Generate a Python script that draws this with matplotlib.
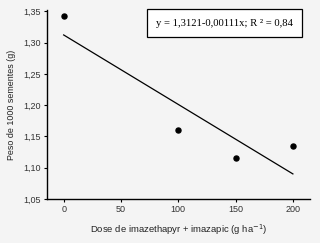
import matplotlib
matplotlib.use("Agg")
import matplotlib.pyplot as plt
import numpy as np

doses = [0, 100, 150, 200]
peso = [1.342, 1.160, 1.116, 1.134]
intercept = 1.3121
slope = -0.00111
x_ticks = [0, 50, 100, 150, 200]
y_ticks = [1.05, 1.10, 1.15, 1.20, 1.25, 1.30, 1.35]
y_tick_labels = ["1,05", "1,10", "1,15", "1,20", "1,25", "1,30", "1,35"]
equation = "y = 1,3121-0,00111x; R ² = 0,84"

bg = "#f4f4f4"
fig = plt.figure(figsize=(3.2, 2.43), dpi=100, facecolor=bg)
ax = fig.add_axes([0.147, 0.181, 0.822, 0.778], facecolor=bg)

ax.scatter(doses, peso, s=13, color="black", zorder=3)
xl = np.array([min(doses), max(doses)])
ax.plot(xl, intercept + slope * xl, color="black", lw=0.9)

ax.set_xlim(-14.5, 215)
ax.set_ylim(1.05, 1.352)
ax.set_xticks(x_ticks)
ax.set_yticks(y_ticks)
ax.set_yticklabels(y_tick_labels)
for s in ["top", "right"]:
    ax.spines[s].set_visible(False)
for s in ["left", "bottom"]:
    ax.spines[s].set_linewidth(1.0)
ax.tick_params(axis="both", labelsize=6.5, colors="black", labelcolor="#333333",
               direction="out", length=2.5, width=0.8, pad=2)
for t in ax.get_xticklabels() + ax.get_yticklabels():
    t.set_family("Liberation Sans")

ax.set_xlabel("Dose de imazethapyr + imazapic (g ha$^{-1}$)", fontsize=6.8,
              family="Liberation Sans", color="#222222", labelpad=6)
ax.set_ylabel("Peso de 1000 sementes (g)", fontsize=6.4,
              family="Liberation Sans", color="#222222", labelpad=5)

ax.text(0.673, 0.931, equation, transform=ax.transAxes, ha="center", va="center",
        fontsize=7.7, family="Liberation Serif",
        bbox=dict(boxstyle="square,pad=0.85", facecolor="white", edgecolor="black", lw=0.9))

fig.savefig("out.png", dpi=100, facecolor=bg)
